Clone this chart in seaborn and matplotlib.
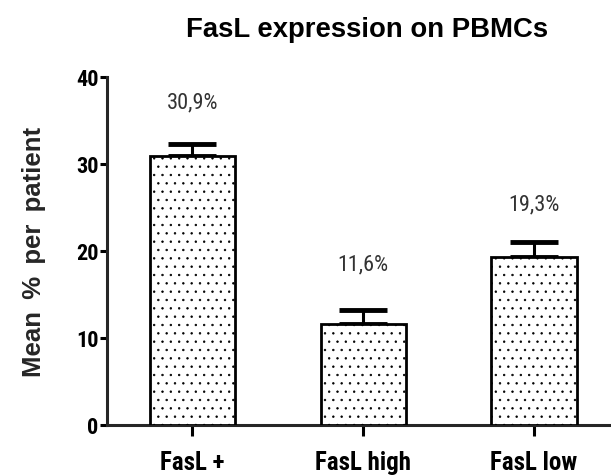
import matplotlib
matplotlib.use("Agg")
import matplotlib.pyplot as plt
import seaborn as sns
import pandas as pd

groups = ["FasL +", "FasL high", "FasL low"]
means = [30.9, 11.6, 19.3]
sem = [1.4, 1.6, 1.7]
labels = ["30,9%", "11,6%", "19,3%"]

df = pd.DataFrame({"group": groups, "mean": means})

sns.set_style("ticks")
plt.rcParams["font.family"] = ["Roboto Condensed", "DejaVu Sans"]
plt.rcParams["hatch.linewidth"] = 0.5
plt.rcParams["text.color"] = "black"
plt.rcParams["xtick.color"] = "black"
plt.rcParams["ytick.color"] = "black"

fig = plt.figure(figsize=(6.11, 4.77), dpi=100)
ax = fig.add_axes([0.175, 0.107, 0.825, 0.73])

sns.barplot(data=df, x="group", y="mean", color="white", edgecolor="black",
            linewidth=2.0, width=0.5, errorbar=None, ax=ax, zorder=3)
for p in ax.patches:
    p.set_hatch("..")

ax.errorbar(range(len(groups)), means, yerr=[[0] * 3, sem], fmt="none",
            ecolor="black", elinewidth=2.2, capsize=17, capthick=3.5, zorder=2)

# labels above the bars
offsets = [6.2, 6.9, 6.1]
for i, (m, lab) in enumerate(zip(means, labels)):
    ax.text(i, m + offsets[i], lab, ha="center", va="center", fontsize=16,
            color="#333333")

ax.set_ylim(0, 40)
ax.set_xlim(-0.5, 2.45)
ax.set_yticks([0, 10, 20, 30, 40])
ax.set_xlabel("")
ax.set_ylabel("Mean \u2009% \u2009per \u2009patient", fontsize=18.5, fontweight="bold",
              family=["Liberation Sans", "DejaVu Sans"], labelpad=22)
sns.despine(ax=ax)
ax.spines["left"].set_linewidth(2.2)
ax.spines["bottom"].set_linewidth(2.2)
ax.tick_params(axis="y", length=5, width=2.2, labelsize=16, pad=1)
ax.tick_params(axis="x", length=8, width=2.2, labelsize=18, pad=10)
for t in ax.get_yticklabels() + ax.get_xticklabels():
    t.set_fontweight("bold")

fig.text(0.6, 0.937, "FasL expression on PBMCs", ha="center", va="center",
         fontsize=19.8, fontweight="bold", family=["Liberation Sans", "DejaVu Sans"])

fig.savefig("out.png", dpi=100)
